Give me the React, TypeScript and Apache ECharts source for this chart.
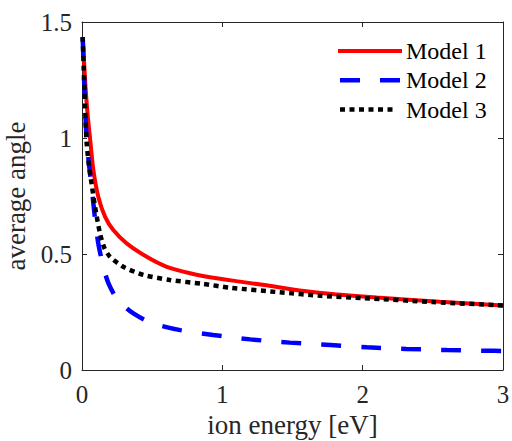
import React, { useEffect, useRef } from "react";
import * as echarts from "echarts";

// Ion energy [eV] sample points and average angle for each model
const model1X = [0.005, 0.025, 0.04, 0.057, 0.081, 0.116, 0.164, 0.223, 0.318, 0.461, 0.604, 0.77, 0.912, 1.1, 1.3, 1.55, 1.8, 2.1, 2.55, 3.0];
const model1Y = [1.435, 1.22, 1.1, 1.0, 0.862, 0.747, 0.661, 0.603, 0.546, 0.488, 0.445, 0.417, 0.4, 0.383, 0.366, 0.343, 0.327, 0.312, 0.294, 0.278];

const model2X = [0.005, 0.018, 0.033, 0.055, 0.076, 0.095, 0.116, 0.15, 0.188, 0.25, 0.318, 0.366, 0.45, 0.55, 0.7, 0.935, 1.2, 1.48, 1.77, 2.03, 2.31, 2.6, 2.88, 3.0];
const model2Y = [1.435, 1.2, 0.99, 0.86, 0.747, 0.64, 0.546, 0.45, 0.374, 0.305, 0.266, 0.244, 0.215, 0.193, 0.172, 0.151, 0.132, 0.118, 0.108, 0.098, 0.091, 0.086, 0.083, 0.082];

const model3X = [0.005, 0.018, 0.033, 0.05, 0.069, 0.093, 0.128, 0.16, 0.2, 0.294, 0.437, 0.627, 0.865, 1.05, 1.41, 1.7, 2.0, 2.5, 3.0];
const model3Y = [1.435, 1.2, 0.98, 0.88, 0.8, 0.704, 0.589, 0.525, 0.488, 0.445, 0.41, 0.388, 0.371, 0.355, 0.335, 0.32, 0.31, 0.293, 0.278];

const seriesNames = ["Model 1", "Model 2", "Model 3"];
const seriesColors = ["#ff0000", "#0000ff", "#000000"];
const seriesDash: (number[] | null)[] = [null, [20, 20], [5, 4.5]];
const seriesWidth = [4, 4.5, 4.5];

const xTicks = { min: 0, max: 3, interval: 1 };
const yTicks = { min: 0, max: 1.5, interval: 0.5 };

const pairs = (xs: number[], ys: number[]) => xs.map((x, i) => [x, ys[i]]);

const FONT = "Liberation Serif";
const AXIS_COLOR = "#262626";

export default function App() {
  const ref = useRef<HTMLDivElement>(null);

  useEffect(() => {
    if (!ref.current) return;
    const chart = echarts.init(ref.current, null, { renderer: "svg" });

    const baseAxis = {
      type: "value" as const,
      axisLine: { show: true, onZero: false, lineStyle: { color: AXIS_COLOR, width: 1 } },
      axisTick: { show: true, inside: true, length: 5, lineStyle: { color: AXIS_COLOR } },
      splitLine: { show: false },
    };

    const dataSets = [
      pairs(model1X, model1Y),
      pairs(model2X, model2Y),
      pairs(model3X, model3Y),
    ];

    // Legend drawn as a key: short line sample followed by its label
    const legendTop = 51;
    const legendStep = 29.3;
    const legendKey = seriesNames.flatMap((name, i) => {
      const y = legendTop + i * legendStep;
      return [
        {
          type: "line",
          shape: { x1: i === 0 ? 338 : 340, y1: y, x2: i === 2 ? 396 : i === 1 ? 400 : 402, y2: y },
          style: {
            stroke: seriesColors[i],
            lineWidth: seriesWidth[i],
            lineDash: seriesDash[i] || undefined,
          },
          z: 10,
        },
        {
          type: "text",
          x: 406,
          y: y,
          style: {
            text: name,
            fontFamily: FONT,
            fontSize: 24,
            fill: "#000",
            verticalAlign: "middle",
            align: "left",
          },
          z: 10,
        },
      ];
    });

    chart.setOption({
      animation: false,
      grid: {
        left: 82,
        top: 22,
        right: 9,
        bottom: 71,
        containLabel: false,
        outerBoundsMode: "none",
      },
      xAxis: [
        {
          ...baseAxis,
          ...xTicks,
          position: "bottom",
          name: "ion energy [eV]",
          nameLocation: "middle",
          nameGap: 40,
          nameTextStyle: { fontFamily: FONT, fontSize: 27, color: AXIS_COLOR },
          axisLabel: { fontFamily: FONT, fontSize: 25, color: AXIS_COLOR, margin: 12 },
        },
        {
          ...baseAxis,
          ...xTicks,
          position: "top",
          axisLabel: { show: false },
        },
      ],
      yAxis: [
        {
          ...baseAxis,
          ...yTicks,
          position: "left",
          name: "average angle",
          nameLocation: "middle",
          nameGap: 48,
          nameTextStyle: { fontFamily: FONT, fontSize: 27, color: AXIS_COLOR },
          axisLabel: { fontFamily: FONT, fontSize: 25, color: AXIS_COLOR, margin: 10, padding: [5, 0, 0, 0] },
        },
        {
          ...baseAxis,
          ...yTicks,
          position: "right",
          axisLabel: { show: false },
        },
      ],
      graphic: legendKey,
      series: seriesNames.map((name, i) => ({
        name,
        type: "line",
        data: dataSets[i],
        showSymbol: false,
        symbol: "none",
        smooth: 0.25,
        color: seriesColors[i],
        lineStyle: {
          color: seriesColors[i],
          width: seriesWidth[i],
          type: seriesDash[i] || "solid",
        },
        z: 2 + i,
      })),
    });

    return () => chart.dispose();
  }, []);

  return (
    <>
      <style>{`#root svg text { font-family: "Liberation Serif", serif !important; }`}</style>
      <div
        ref={ref}
        style={{ position: "fixed", left: 0, top: 0, width: 512, height: 441, background: "#fff" }}
      />
    </>
  );
}
